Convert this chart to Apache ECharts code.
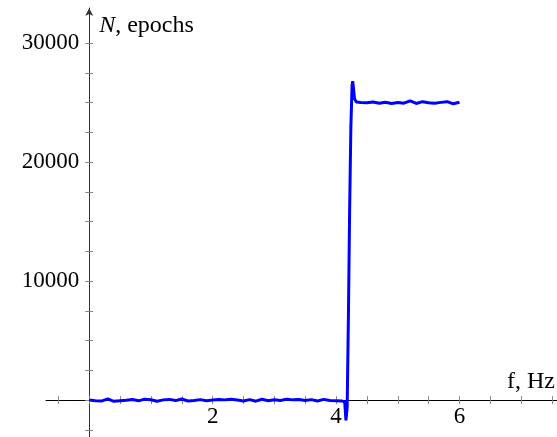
<!DOCTYPE html>
<html>
<head>
<meta charset="utf-8">
<script src="https://cdn.jsdelivr.net/npm/echarts@6/dist/echarts.min.js"></script>
<style>
html,body{margin:0;padding:0;background:#fff;}
#chart{width:557px;height:437px;}
</style>
</head>
<body>
<div id="chart"></div>
<script>
// Frequency (Hz) values of the sampled curve
const fVals = [
  0.0,0.1,0.2,0.3,0.4,0.5,0.6,0.7,0.8,0.9,
  1.0,1.1,1.2,1.3,1.4,1.5,1.6,1.7,1.8,1.9,
  2.0,2.1,2.2,2.3,2.4,2.5,2.6,2.7,2.8,2.9,
  3.0,3.1,3.2,3.3,3.4,3.5,3.6,3.7,3.8,3.9,
  4.0,4.1,4.14,4.16,4.18,4.20,4.22,4.24,4.26,4.27,4.28,4.30,4.33,
  4.4,4.5,4.6,4.7,4.8,4.9,5.0,5.1,5.2,5.3,5.4,5.5,5.6,5.7,5.8,5.9,6.0
];
// N, epochs values
const nVals = [
  0,-50,-80,100,-100,-60,-20,50,-60,80,
  30,-90,20,60,-40,90,-70,-30,40,-50,
  0,60,20,80,10,-70,40,-90,70,-60,
  30,-40,80,20,50,-30,40,-80,60,-40,
  -60,-80,-150,-1700,-600,7000,16000,23000,26500,26800,26300,25300,25050,
  25000,24980,25050,24950,25030,24920,25010,24950,25150,24930,25080,24980,24950,25020,25080,24900,25030
];
const xTickVals = [-0.5,0,0.5,1,1.5,2,2.5,3,3.5,4,4.5,5,5.5,6,6.5,7,7.5];
const xLabelVals = [2,4,6];
const yTickVals = [-2500,0,2500,5000,7500,10000,12500,15000,17500,20000,22500,25000,27500,30000];
const yLabelVals = [10000,20000,30000];

const xMin = -0.7, xMax = 7.58, yMin = -3100, yMax = 32950;
const W = 557, H = 437;
const G = {left:46, right:0, top:8, bottom:0};
const gw = W - G.left - G.right, gh = H - G.top - G.bottom;
// axes cross at the origin: offset each axis from the grid edge by where 0 falls on the other scale
const xAxisOffset = -((0 - yMin) / (yMax - yMin)) * gh;
const yAxisOffset = -((0 - xMin) / (xMax - xMin)) * gw;
const serif = 'Liberation Serif';
const data = fVals.map((f,i)=>[f,nVals[i]]);

const chart = echarts.init(document.getElementById('chart'), null, {renderer:'canvas'});
const tickStyle = {color:'#888', width:1};
chart.setOption({
  animation:false,
  grid:{left:G.left,right:G.right,top:G.top,bottom:G.bottom,containLabel:false,outerBoundsMode:'none'},
  xAxis:[{
    type:'value',min:xMin,max:xMax,position:'bottom',offset:xAxisOffset,
    axisLine:{show:true,onZero:false,lineStyle:{color:'#000',width:1}},
    axisTick:{show:true,length:4,customValues:xTickVals,lineStyle:tickStyle},
    axisLabel:{show:true,customValues:xLabelVals,margin:5,fontFamily:serif,fontSize:23,color:'#000'},
    splitLine:{show:false},
    name:'f, Hz',nameLocation:'end',nameGap:-2,
    nameTextStyle:{fontFamily:serif,fontSize:24,color:'#000',align:'right',verticalAlign:'bottom',padding:[0,0,6,0]}
  },{
    type:'value',min:xMin,max:xMax,position:'bottom',offset:xAxisOffset,
    axisLine:{show:false,onZero:false},
    axisTick:{show:true,inside:true,length:4,customValues:xTickVals,lineStyle:tickStyle},
    axisLabel:{show:false},splitLine:{show:false}
  }],
  yAxis:[{
    type:'value',min:yMin,max:yMax,position:'left',offset:yAxisOffset,
    axisLine:{show:true,onZero:false,symbol:['none','arrow'],symbolSize:[6,8],lineStyle:{color:'#333',width:1}},
    axisTick:{show:true,length:4,customValues:yTickVals,lineStyle:tickStyle},
    axisLabel:{show:true,customValues:yLabelVals,margin:10,fontFamily:serif,fontSize:23,color:'#000',formatter:v=>String(v)},
    splitLine:{show:false},
    name:'{i|N}, epochs',nameLocation:'end',nameGap:-18,
    nameTextStyle:{fontFamily:serif,fontSize:24,color:'#000',align:'left',verticalAlign:'middle',padding:[0,0,0,10],
      rich:{i:{fontFamily:serif,fontSize:24,fontStyle:'italic',color:'#000'}}}
  },{
    type:'value',min:yMin,max:yMax,position:'left',offset:yAxisOffset,
    axisLine:{show:false,onZero:false},
    axisTick:{show:true,inside:true,length:4,customValues:yTickVals,lineStyle:tickStyle},
    axisLabel:{show:false},splitLine:{show:false}
  }],
  series:[{
    type:'line',data:data,xAxisIndex:0,yAxisIndex:0,
    showSymbol:false,symbol:'none',smooth:false,
    lineStyle:{color:'#0000ff',width:3},
    z:3
  }]
});
</script>
</body>
</html>
